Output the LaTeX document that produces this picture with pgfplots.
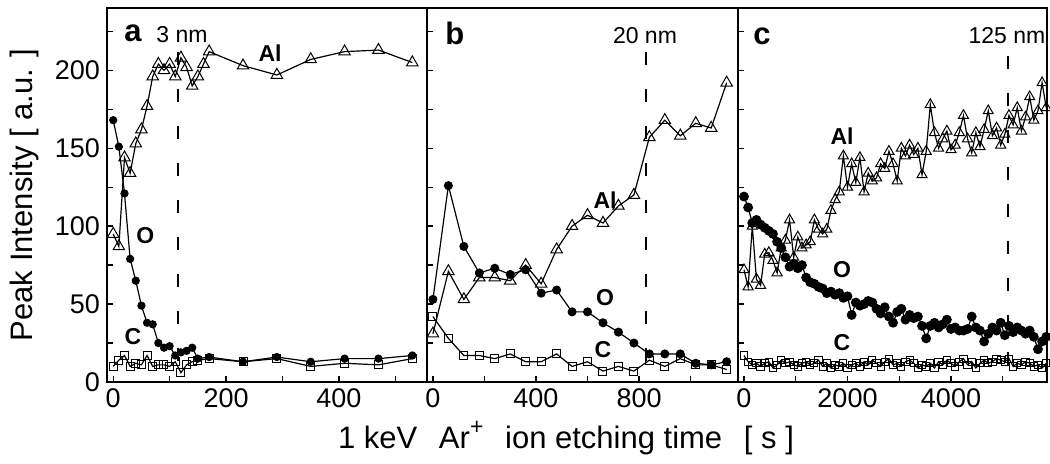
\documentclass[border=0pt]{standalone}
\usepackage{fontspec}
\setmainfont{Liberation Sans}
\usepackage{pgfplots}
\pgfplotsset{compat=1.18}

\newcommand{\tkfont}{\fontsize{13.5}{15}\selectfont}
\newcommand{\nmfont}{\fontsize{11.5}{13}\selectfont}
\newcommand{\lblfont}{\fontsize{11.5}{13}\selectfont\bfseries}
\newcommand{\panfont}{\fontsize{15.5}{18}\selectfont\bfseries}

\pgfplotsset{
  panel/.style={
    scale only axis, height=187pt, ymin=0, ymax=240,
    axis line style={line width=0.8pt},
    tick align=inside, major tick length=3pt,
    tick style={black, line width=0.7pt},
    xtick pos=bottom, ytick pos=left,
    ytick={0,25,...,225}, yticklabels={},
    tick label style={font=\tkfont},
    /pgf/number format/assume math mode=true,
    every axis plot/.append style={black, line width=0.6pt,
      mark options={solid, line width=0.5pt}},
  },
  alS/.style={mark=triangle, mark size=3.3pt},
  oS/.style={mark=*, mark size=#1},
  cS/.style={mark=square, mark size=#1},
  depth/.style={black, line width=0.7pt, dash pattern=on 6.5pt off 12pt, mark=none},
}

\begin{document}
\begin{tikzpicture}
\path[use as bounding box] (-53.5pt,-41pt) rectangle (471.5pt,191pt);

% ---- panel a
\begin{axis}[panel, at={(0pt,0pt)}, anchor=south west, width=160pt,
  xmin=-11, xmax=556,
  xtick={0,100,...,500}, xticklabels={0,,200,,400,},
  yticklabels={0,,50,,100,,150,,200,}]
\addplot[cS=2pt] coordinates {
 (0,10) (10,14) (20,17) (30,10) (40,12) (50,11) (60,17) (70,10) (80,11) (90,11)
 (100,10) (110,13) (120,6) (130,11) (140,13) (150,14) (170,15) (230,13) (290,15)
 (350,10) (410,12) (470,11) (530,15)};
\addplot[oS=1.8pt] coordinates {
 (0,168) (10,151) (20,121) (30,79) (40,65) (50,49) (60,38) (70,37) (80,25) (90,22)
 (100,23) (110,17) (120,19) (130,20) (140,22) (150,15) (170,16) (230,13) (290,16)
 (350,13) (410,15) (470,15) (530,17)};
\addplot[alS] coordinates {
 (0,95) (10,87) (20,144) (30,134) (40,153) (50,162) (60,177) (70,196) (80,204) (90,200)
 (100,204) (110,196) (120,208) (130,202) (140,190) (150,196) (160,204) (170,212)
 (230,203) (290,197) (350,207) (410,212) (470,213) (530,205)};
\addplot[depth] coordinates {(115,212) (115,0)};
\node[font=\panfont] at (axis cs:35,224) {a};
\node[font=\nmfont] at (axis cs:122,223) {3 nm};
\node[font=\lblfont] at (axis cs:278,211) {Al};
\node[font=\lblfont] at (axis cs:57,94) {O};
\node[font=\lblfont] at (axis cs:35,29) {C};
\end{axis}

% ---- panel b
\begin{axis}[panel, at={(160pt,0pt)}, anchor=south west, width=155.5pt,
  xmin=-23, xmax=1184,
  xtick={0,200,...,1000}, xticklabels={0,,400,,800,}]
\addplot[cS=2pt] coordinates {
 (0,42) (60,28) (120,17) (180,17) (240,15) (300,18) (360,13) (420,13) (480,18) (540,10)
 (600,13) (660,7) (720,10) (780,7) (840,14) (900,10) (960,15) (1020,11) (1080,11) (1140,8)};
\addplot[oS=2pt] coordinates {
 (0,53) (60,126) (120,87) (180,70) (240,73) (300,69) (360,72) (420,57) (480,59) (540,45)
 (600,45) (660,38) (720,32) (780,25) (840,18) (900,18) (960,18) (1020,12) (1080,11) (1140,13)};
\addplot[alS] coordinates {
 (0,31) (60,71) (120,53) (180,67) (240,67) (300,65) (360,75) (420,63) (480,85) (540,100)
 (600,107) (660,102) (720,113) (780,120) (840,157) (900,168) (960,158) (1020,166) (1080,163) (1140,192)};
\addplot[depth] coordinates {(827,212) (827,0)};
\node[font=\panfont] at (axis cs:85,224) {b};
\node[font=\nmfont] at (axis cs:823,222) {20 nm};
\node[font=\lblfont] at (axis cs:668,117) {Al};
\node[font=\lblfont] at (axis cs:668,54) {O};
\node[font=\lblfont] at (axis cs:660,21) {C};
\end{axis}

% ---- panel c
\begin{axis}[panel, at={(315.5pt,0pt)}, anchor=south west, width=154.5pt,
  xmin=-116, xmax=5855,
  xtick={0,1000,...,5000}, xticklabels={0,,2000,,4000,}]
\addplot[cS=1.8pt] coordinates {
 (0,17) (80,13) (160,11) (240,12) (320,10) (400,12) (480,13) (560,9) (640,11) (720,14)
 (800,12) (880,13) (960,11) (1040,10) (1120,12) (1200,13) (1280,11) (1360,12) (1440,14) (1520,10)
 (1600,12) (1680,9) (1760,11) (1840,10) (1920,12) (2000,9) (2080,11) (2160,12) (2240,10) (2320,13)
 (2400,11) (2480,14) (2560,12) (2640,10) (2720,13) (2800,15) (2880,11) (2960,12) (3040,10) (3120,13)
 (3200,14) (3280,12) (3360,9) (3440,11) (3520,10) (3600,12) (3680,9) (3760,13) (3840,11) (3920,14)
 (4000,12) (4080,10) (4160,13) (4240,15) (4320,11) (4400,13) (4480,9) (4560,12) (4640,14) (4720,12)
 (4800,13) (4880,15) (4960,14) (5040,13) (5120,15) (5200,10) (5280,12) (5360,11) (5440,13) (5520,12)
 (5600,10) (5680,11) (5760,9) (5840,12)};
\addplot[oS=2.2pt] coordinates {
 (0,119) (80,112) (160,102) (240,104) (320,101) (400,99) (480,97) (560,95) (640,90) (720,86)
 (800,80) (880,74) (960,76) (1040,73) (1120,75) (1200,67) (1280,64) (1360,63) (1440,61) (1520,60)
 (1600,57) (1680,58) (1760,56) (1840,57) (1920,54) (2000,55) (2080,43) (2160,51) (2240,49) (2320,50)
 (2400,52) (2480,51) (2560,47) (2640,44) (2720,48) (2800,42) (2880,38) (2960,45) (3040,47) (3120,40)
 (3200,43) (3280,41) (3360,42) (3440,36) (3520,28) (3600,36) (3680,38) (3760,35) (3840,37) (3920,40)
 (4000,34) (4080,35) (4160,33) (4240,33) (4320,34) (4400,42) (4480,35) (4560,33) (4640,26) (4720,31)
 (4800,35) (4880,33) (4960,38) (5040,30) (5120,36) (5200,32) (5280,35) (5360,33) (5440,31) (5520,33)
 (5600,29) (5680,21) (5760,26) (5840,29)};
\addplot[alS, mark size=2.9pt] coordinates {
 (0,72) (80,61) (160,100) (240,66) (320,62) (400,82) (480,83) (560,78) (640,70) (720,86)
 (800,91) (880,104) (960,80) (1040,93) (1120,86) (1200,88) (1280,90) (1360,104) (1440,98) (1520,95)
 (1600,98) (1680,110) (1760,117) (1840,122) (1920,145) (2000,125) (2080,140) (2160,128) (2240,144) (2320,122)
 (2400,134) (2480,129) (2560,131) (2640,140) (2720,137) (2800,148) (2880,140) (2960,129) (3040,150) (3120,145)
 (3200,152) (3280,146) (3360,150) (3440,133) (3520,148) (3600,178) (3680,160) (3760,150) (3840,156) (3920,161)
 (4000,149) (4080,152) (4160,160) (4240,171) (4320,156) (4400,147) (4480,160) (4560,151) (4640,162) (4720,174)
 (4800,158) (4880,163) (4960,152) (5040,159) (5120,171) (5200,165) (5280,176) (5360,161) (5440,170) (5520,183)
 (5600,168) (5680,174) (5760,192) (5840,176)};
\addplot[depth] coordinates {(5100,209) (5100,0)};
\node[font=\panfont] at (axis cs:348,222) {c};
\node[font=\nmfont] at (axis cs:5082,222) {125 nm};
\node[font=\lblfont] at (axis cs:1894,158) {Al};
\node[font=\lblfont] at (axis cs:1894,72) {O};
\node[font=\lblfont] at (axis cs:1894,25) {C};
\end{axis}

\node[rotate=90, anchor=base, inner sep=0pt, font=\fontsize{15.5}{17}\selectfont]
  at (-37pt,93.5pt) {Peak Intensity [ a.u. ]};
\node[font=\fontsize{15.5}{17}\selectfont] at (229.5pt,-28pt)
  {1 keV\hspace{0.7em}Ar{\raisebox{0.45em}{\fontsize{11.5}{12}\selectfont +}}\hspace{0.7em}ion etching time\hspace{0.7em}[ s ]};
\end{tikzpicture}
\end{document}
